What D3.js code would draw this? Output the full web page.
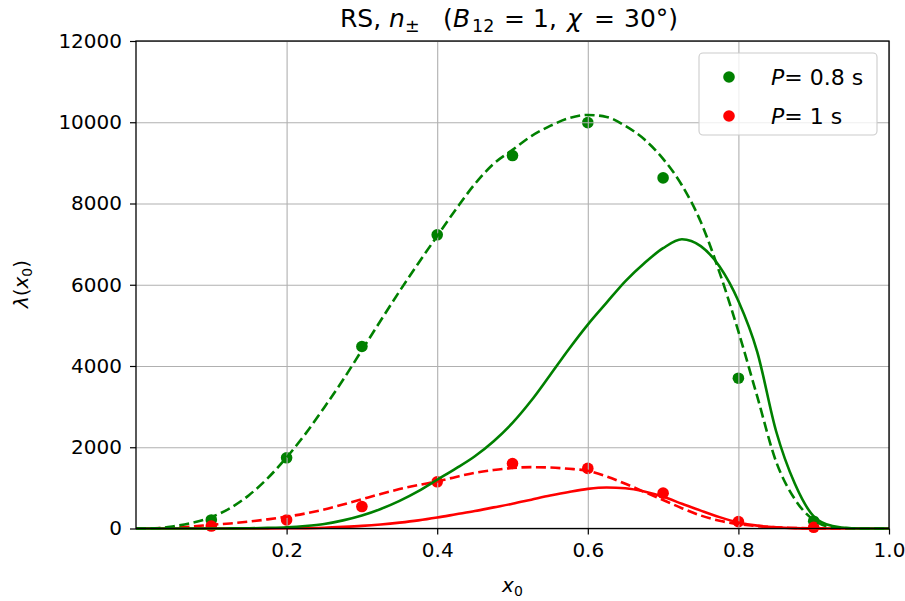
<!DOCTYPE html>
<html>
<head>
<meta charset="utf-8">
<script src="https://cdn.jsdelivr.net/npm/d3@7"></script>
<style>
  body { margin: 0; background: #fff; }
  text { font-family: "DejaVu Sans", sans-serif; fill: #000; }
</style>
</head>
<body>
<svg id="chart" width="905" height="601"></svg>
<script>
// sample points, x0 = 0.1 .. 0.9
var ptX = [0.1, 0.2, 0.3, 0.4, 0.5, 0.6, 0.7, 0.8, 0.9];
var ptGreen = [210, 1740, 4480, 7230, 9180, 9990, 8630, 3700, 180];
var ptRed = [60, 210, 540, 1150, 1600, 1480, 870, 170, 30];

// curves on a 0.025 grid, x0 = 0 .. 1
var curveX = d3.range(41).map(function (i) { return i / 40; });
var greenDash = [0, 5, 55, 140, 280, 500, 820, 1240, 1750, 2330, 2980, 3660, 4390, 5120, 5840,
    6530, 7200, 7860, 8480, 8980, 9320, 9660, 9910, 10100, 10180, 10130, 9910, 9580, 9100, 8450,
    7550, 6300, 4850, 3250, 1650, 720, 210, 30, 5, 0, 0];
var greenSolid = [0, 0, 0, 0, 0, 2, 5, 15, 30, 60, 110, 200, 320, 480, 680, 920, 1200, 1480,
    1780, 2150, 2600, 3150, 3780, 4420, 5020, 5560, 6090, 6530, 6900, 7120, 6950, 6450, 5600,
    4350, 2400, 1100, 300, 60, 5, 0, 0];
var redDash = [0, 5, 20, 50, 90, 125, 170, 225, 290, 370, 470, 590, 720, 850, 970, 1070, 1160,
    1270, 1370, 1440, 1490, 1510, 1500, 1470, 1420, 1280, 1100, 900, 700, 500, 320, 190, 110,
    60, 30, 12, 5, 0, 0, 0, 0];
var redSolid = [0, 0, 0, 0, 0, 0, 0, 2, 5, 10, 20, 40, 65, 100, 145, 200, 270, 350, 430, 520,
    610, 710, 810, 900, 975, 1010, 990, 910, 780, 610, 440, 280, 150, 70, 30, 10, 3, 0, 0, 0, 0];

var xTicks = [0.2, 0.4, 0.6, 0.8, 1.0];
var yTicks = [0, 2000, 4000, 6000, 8000, 10000, 12000];
var legendItems = [{ label: "0.8 s", color: "green" }, { label: "1 s", color: "red" }];

var svg = d3.select("#chart");
var plotL = 136, plotR = 889, plotT = 41, plotB = 528.5;

var x = d3.scaleLinear().domain([0, 1]).range([plotL, plotR]);
var y = d3.scaleLinear().domain([0, 12000]).range([plotB, plotT]);

// scatter sits below the grid, lines above it
var dots = svg.append("g");
dots.selectAll(".g").data(ptX).enter().append("circle")
    .attr("cx", function (d) { return x(d); })
    .attr("cy", function (d, i) { return y(ptGreen[i]); })
    .attr("r", 5.8).attr("fill", "green");
dots.selectAll(".r").data(ptX).enter().append("circle")
    .attr("cx", function (d) { return x(d); })
    .attr("cy", function (d, i) { return y(ptRed[i]); })
    .attr("r", 5.8).attr("fill", "red");

// grid
svg.append("g").attr("transform", "translate(0," + plotB + ")")
    .call(d3.axisBottom(x).tickValues(xTicks).tickSize(-(plotB - plotT)).tickFormat(""))
    .call(function (g) {
        g.select(".domain").remove();
        g.selectAll("line").attr("stroke", "#b0b0b0").attr("stroke-width", 1.1);
    });
svg.append("g").attr("transform", "translate(" + plotL + ",0)")
    .call(d3.axisLeft(y).tickValues(yTicks).tickSize(-(plotR - plotL)).tickFormat(""))
    .call(function (g) {
        g.select(".domain").remove();
        g.selectAll("line").attr("stroke", "#b0b0b0").attr("stroke-width", 1.1);
    });

var line = function (vals) {
    return d3.line()
        .x(function (d, i) { return x(curveX[i]); })
        .y(function (d) { return y(d); })
        .curve(d3.curveMonotoneX)(vals);
};

var curves = [
    { v: redDash, c: "red", dash: "10,4.5" },
    { v: redSolid, c: "red", dash: null },
    { v: greenDash, c: "green", dash: "10,4.5" },
    { v: greenSolid, c: "green", dash: null }
];
svg.append("g").selectAll("path").data(curves).enter().append("path")
    .attr("d", function (d) { return line(d.v); })
    .attr("fill", "none")
    .attr("stroke", function (d) { return d.c; })
    .attr("stroke-width", 2.6)
    .attr("stroke-dasharray", function (d) { return d.dash; });

// axes
var xAxis = svg.append("g").attr("transform", "translate(0," + plotB + ")")
    .call(d3.axisBottom(x).tickValues(xTicks).tickSize(6).tickPadding(8).tickFormat(d3.format(".1f")));
var yAxis = svg.append("g").attr("transform", "translate(" + plotL + ",0)")
    .call(d3.axisLeft(y).tickValues(yTicks).tickSize(6).tickPadding(8).tickFormat(d3.format("d")));
[xAxis, yAxis].forEach(function (a) {
    a.select(".domain").remove();
    a.selectAll("line").attr("stroke", "#000").attr("stroke-width", 1.2);
    a.selectAll("text").attr("font-size", 20).attr("font-family", "DejaVu Sans").attr("fill", "#262626");
});

// frame
svg.append("rect")
    .attr("x", plotL).attr("y", plotT)
    .attr("width", plotR - plotL).attr("height", plotB - plotT)
    .attr("fill", "none").attr("stroke", "#000").attr("stroke-width", 1.3);

// title, laid out piece by piece like mathtext
var titleParts = [
    { t: "RS,", x: 340 },
    { t: "n", x: 389, it: true },
    { t: "±", x: 405, sub: true },
    { t: "(", x: 443 },
    { t: "B", x: 453, it: true },
    { t: "12", x: 472, sub: true },
    { t: "=", x: 504 },
    { t: "1,", x: 533 },
    { t: "χ", x: 567, it: true },
    { t: "=", x: 594 },
    { t: "30°)", x: 624 }
];
svg.append("g").selectAll("text").data(titleParts).enter().append("text")
    .attr("x", function (d) { return d.x; })
    .attr("y", function (d) { return d.sub ? 32 : 27; })
    .attr("font-size", function (d) { return d.sub ? 17.5 : 25; })
    .attr("font-style", function (d) { return d.it ? "italic" : null; })
    .text(function (d) { return d.t; });

// axis labels
var xl = svg.append("text").attr("x", (plotL + plotR) / 2).attr("y", 592)
    .attr("text-anchor", "middle").attr("font-size", 20);
xl.append("tspan").attr("font-style", "italic").text("x");
xl.append("tspan").attr("font-size", 14).attr("dy", 4).text("0");

var yl = svg.append("text").attr("transform", "translate(28,284) rotate(-90)")
    .attr("text-anchor", "middle").attr("font-size", 20);
yl.append("tspan").attr("font-style", "italic").text("λ");
yl.append("tspan").text("(");
yl.append("tspan").attr("font-style", "italic").text("x");
yl.append("tspan").attr("font-size", 14).attr("dy", 4).text("0");
yl.append("tspan").attr("dy", -4).text(")");

// legend
var lg = svg.append("g");
lg.append("rect").attr("x", 699).attr("y", 53).attr("width", 178).attr("height", 82)
    .attr("rx", 4).attr("fill", "#fff").attr("fill-opacity", 0.8)
    .attr("stroke", "#cccccc").attr("stroke-width", 1.1);
var rows = lg.selectAll("g.item").data(legendItems).enter().append("g")
    .attr("transform", function (d, i) { return "translate(0," + (77 + i * 39) + ")"; });
rows.append("circle").attr("cx", 729).attr("cy", 0).attr("r", 5.8)
    .attr("fill", function (d) { return d.color; });
var lt = rows.append("text").attr("x", 771).attr("y", 8).attr("font-size", 22);
lt.append("tspan").attr("font-style", "italic").text("P");
lt.append("tspan").text(function (d) { return "= " + d.label; });
</script>
</body>
</html>
